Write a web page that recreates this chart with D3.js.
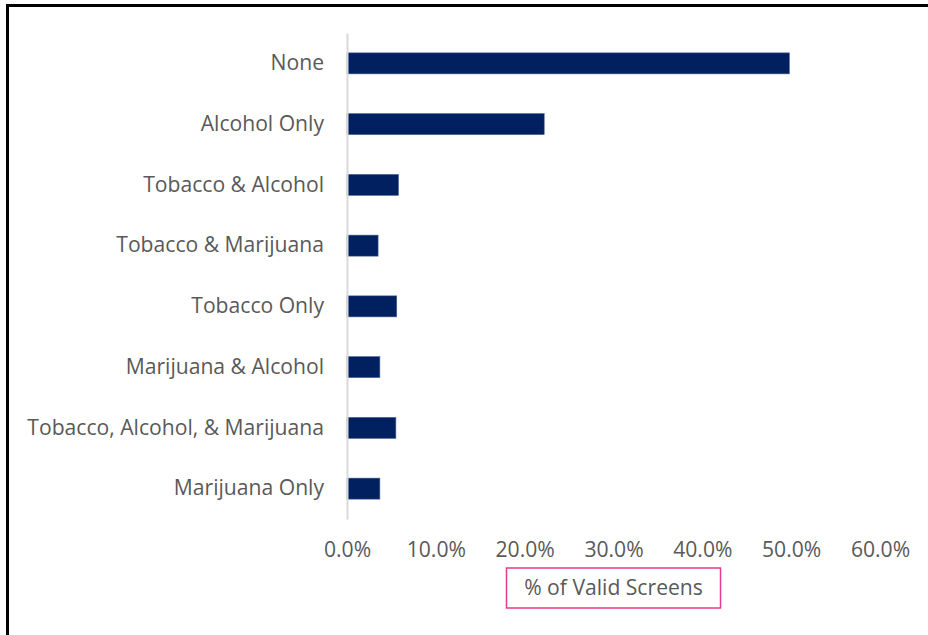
<!DOCTYPE html>
<html>
<head>
<meta charset="utf-8">
<script src="https://cdn.jsdelivr.net/npm/d3@7"></script>
<style>
  body { margin: 0; background: #fff; overflow: hidden; }
  svg { display: block; }
  svg text { font-family: "Open Sans", "Noto Sans", sans-serif; }
</style>
</head>
<body>
<div id="chart"></div>
<script>
// Data
const categories = [
  'None',
  'Alcohol Only',
  'Tobacco & Alcohol',
  'Tobacco & Marijuana',
  'Tobacco Only',
  'Marijuana & Alcohol',
  'Tobacco, Alcohol, & Marijuana',
  'Marijuana Only',
];
const values = [49.8, 22.2, 5.8, 3.5, 5.6, 3.7, 5.5, 3.7];
const xTicks = [0, 10, 20, 30, 40, 50, 60];
const axisTitle = '% of Valid Screens';

const width = 928;
const height = 635;
const margin = { top: 33, right: 48, bottom: 116, left: 347 };
const innerW = width - margin.left - margin.right;
const innerH = height - margin.top - margin.bottom;

const svg = d3
  .select('#chart')
  .append('svg')
  .attr('width', width)
  .attr('height', height);

// find a font size where the longest label is as wide as in the original (~297px)
const probe = svg.append('text').style('font-size', '20px').text(categories[6]);
const fontSize = 20 * 297 / probe.node().getComputedTextLength();
probe.remove();

// outer frame: only its top and left edges fall inside the picture
svg.append('path')
  .attr('d', `M7.5,${height + 5}V5.5H${width + 5}`)
  .attr('fill', 'none')
  .attr('stroke', '#000')
  .attr('stroke-width', 3);

const g = svg
  .append('g')
  .attr('transform', `translate(${margin.left},${margin.top})`);

// Scales
const x = d3.scaleLinear().domain([0, 60]).range([0, innerW]);
const y = d3.scaleBand().domain(categories).range([0, innerH]).paddingInner(0.654).paddingOuter(0.327);

// Bars
g.selectAll('.bar')
  .data(categories)
  .enter()
  .append('rect')
  .attr('class', 'bar')
  .attr('x', 0)
  .attr('y', (d) => y(d))
  .attr('width', (d, i) => x(values[i]))
  .attr('height', y.bandwidth())
  .attr('fill', '#002060')
  .attr('stroke', '#4a6496')
  .attr('stroke-width', 0.6);

// Category axis
const yAxis = g.append('g')
  .call(d3.axisLeft(y).tickSize(0).tickPadding(23));
yAxis.select('.domain')
  .attr('stroke', '#d9d9d9')
  .attr('stroke-width', 2);
yAxis.selectAll('text')
  .attr('fill', '#595959')
  .style('font-size', fontSize + 'px');

// Value axis (labels only)
const xAxis = g.append('g')
  .attr('transform', `translate(0,${innerH})`)
  .call(d3.axisBottom(x).tickValues(xTicks).tickSize(0).tickPadding(23)
    .tickFormat((d) => d.toFixed(1) + '%'));
xAxis.select('.domain').remove();
xAxis.selectAll('text')
  .attr('fill', '#595959')
  .style('font-size', fontSize + 'px');

// Axis title in a pink box
const titleG = g.append('g')
  .attr('transform', `translate(${innerW / 2},${innerH + 69})`);
titleG.append('rect')
  .attr('x', -107)
  .attr('y', -20)
  .attr('width', 214)
  .attr('height', 40)
  .attr('fill', 'none')
  .attr('stroke', '#e8388f')
  .attr('stroke-width', 1.5);
titleG.append('text')
  .attr('text-anchor', 'middle')
  .attr('dy', '0.35em')
  .attr('fill', '#595959')
  .style('font-size', fontSize + 'px')
  .text(axisTitle);
</script>
</body>
</html>
